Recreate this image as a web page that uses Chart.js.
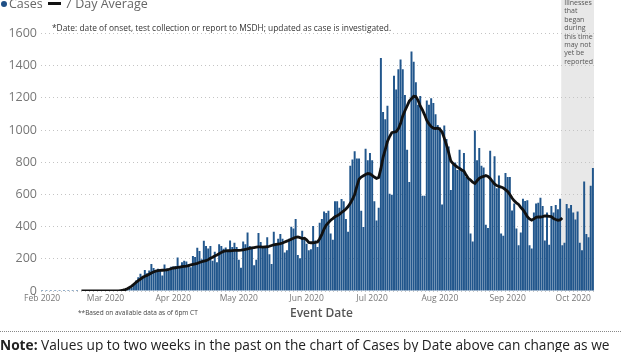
<!DOCTYPE html>
<html>
<head>
<meta charset="utf-8">
<script src="https://cdn.jsdelivr.net/npm/chart.js@4.4.0/dist/chart.umd.min.js"></script>
<style>
  body { margin: 0; background: #fff; font-family: 'Open Sans', sans-serif; }
  #wrap { position: relative; width: 621px; height: 352px; overflow: hidden; }
  #wrap canvas { position: absolute; left: 0; top: 0; }
  .txt { position: absolute; white-space: nowrap; }
  #legend { left: 0; top: -5px; font-size: 12.5px; color: #666; }
  #legend .dot { display: inline-block; width: 6px; height: 6px; border-radius: 3px; background: #1f4f86; margin: 0 2px 2px 1px; vertical-align: middle; }
  #legend .ln { display: inline-block; width: 13px; height: 3px; background: #111; margin: 0 4px 2px 5px; vertical-align: middle; }
  #noteDate { left: 52px; top: 22px; font-size: 8.4px; color: #333; }
  #based { left: 78px; top: 308px; font-size: 6.5px; color: #444; }
  #xtitle { left: 290px; top: 304px; font-size: 12px; font-weight: 600; color: #555; }
  #rule { position: absolute; left: 0; top: 331px; width: 621px; height: 0; border-top: 1px dotted #888; z-index: 2; }
  #note { left: 0; top: 335px; font-size: 13.7px; color: #222; }
</style>
</head>
<body>
<div id="wrap">
  <canvas id="casesChart" width="621" height="352"></canvas>
  <div class="txt" id="legend"><span class="dot"></span>Cases<span class="ln"></span>7 Day Average</div>
  <div class="txt" id="noteDate">*Date: date of onset, test collection or report to MSDH; updated as case is investigated.</div>
  <div class="txt" id="based">**Based on available data as of 6pm CT</div>
  <div class="txt" id="xtitle">Event Date</div>
  <div class="txt" id="note"><b>Note:</b> Values up to two weeks in the past on the chart of Cases by Date above can change as we</div>
  <div id="rule"></div>
</div>
<script>
// daily cases by event date, Feb 1 - Oct 10 2020
const casesFeb = [6,0,6,0,6,0,6,0,6,0,6,0,6,0,6,0,6,0,0,0,0,0,0,0,0,0,0,0,0];
const casesMar = [0,0,0,0,0,0,1, 2,3,5,8,14,22,40, 66,86,107,95,131,110,127, 168,143,130,138,128,97,164, 140,128,151];
const casesApr = [152,156,208,143,178,188,184, 168,148,218,212,269,248,198, 313,279,264,279,188,244,178, 290,280,262,270,250,314,274, 300,274];
const casesMay = [194,144,308,290,364,280,274, 160,194,360,304,280,274,334, 228,168,368,294,324,354,324, 240,254,324,400,388,448,224, 204,374,334];
const casesJun = [294,254,260,404,314,274,424, 448,494,484, 498,358,318,558,558,518,572,558,448,368, 778,818,868,824,824,498,398,884,812,858];
const casesJul = [812,558,438,518,1448,1112,1068, 1152,604,598,1338,1252,1378,1438, 1378,1218,878,678,1488,1424,1298, 1158,1212,592,592,1184,1158,1198, 1168,1098,1032];
const casesAug = [1018,538,1028,944,898,628,784, 798,752,878,752,858,708,698, 358,308,998,812,888,778,768, 412,392,872,688,838,638,718, 358,344,734];
const casesSep = [708,708,500,544,388,284,364, 574,560,564,284,264,488,544, 548,580,528,314,488,288,528, 488,534,508,574,284,300,540, 514,534];
const casesOct = [488,444,494,300,254,680,354,334,654,764];

// 7 day average (black line)
const avgFeb = [null,null,null,null,null,null,null,null,null,null,null,null,null,null,null,null,null,null, 0,0,0,0,0,0,0,0,0,0,0];
const avgMar = [0,0,0,0,0,0,1, 3,5,9,14,22,30,42, 54,64,74,84,92,97,104, 112,118,124,127,128,129,130, 131,134,138];
const avgApr = [143,144,147,149,151,153,155, 158,162,165,168,172,177,182, 186,188,195,203,210,218,224, 232,240,246,249,250,250,251, 252,252];
const avgMay = [253,254,256,258,262,265,268, 270,272,274,274,273,274,275, 278,283,287,290,292,294,298, 304,310,315,322,328,334,336, 332,326,328];
const avgJun = [318,302,300,300,302,305,325, 352,385,410,425,440,450,462, 468,476,488,498,510,525,545, 570,600,650,695,708,716,724, 730,728];
const avgJul = [718,708,700,705,760,830,878, 930,960,984,988,990,1008,1040, 1088,1120,1150,1180,1195,1210,1208, 1185,1150,1125,1095,1060,1038,1022, 1012,1010,1012];
const avgAug = [1005,988,950,908,860,808,792, 780,770,762,752,745,720,700, 690,676,668,685,700,708,712, 718,712,700,682,665,655,650, 646,640,630];
const avgSep = [618,600,578,560,548,538,520, 505,485,462,448,440,448,458, 460,460,462,466,466,464,462, 450,444,440,442,454,null,null,null,null];
const avgOct = [null,null,null,null,null,null,null,null,null,null];

const monthTicks = ['Feb 2020','Mar 2020','Apr 2020','May 2020','Jun 2020','Jul 2020','Aug 2020','Sep 2020','Oct 2020'];
const yTicks = [0,200,400,600,800,1000,1200,1400,1600];
const incompleteFrom = '2020-09-26';
const bandText = ['Illnesses','that','began','during','this time','may not','yet be','reported'];

const cases = [].concat(casesFeb, casesMar, casesApr, casesMay, casesJun, casesJul, casesAug, casesSep, casesOct);
const avg = [].concat(avgFeb, avgMar, avgApr, avgMay, avgJun, avgJul, avgAug, avgSep, avgOct);

// one category per day
const days = [];
for (let i = 0; i < cases.length; i++) {
  const d = new Date(Date.UTC(2020, 1, 1 + i));
  days.push(d.toISOString().slice(0, 10));
}

function bandLeft(chart) {
  const x = chart.scales.x;
  const i = days.indexOf(incompleteFrom);
  return x.getPixelForValue(i) - (x.getPixelForValue(1) - x.getPixelForValue(0)) / 2;
}

const bandPlugin = {
  id: 'band',
  beforeDraw(chart) {
    const area = chart.chartArea, c = chart.ctx, left = bandLeft(chart);
    c.save();
    c.fillStyle = '#e8e8e8';
    c.fillRect(left, 0, area.right - left, area.bottom);
    c.restore();
  },
  afterDraw(chart) {
    const c = chart.ctx, left = bandLeft(chart);
    c.save();
    c.fillStyle = '#555';
    c.font = "7px 'Open Sans'";
    c.textBaseline = 'middle';
    bandText.forEach((t, k) => c.fillText(t, left + 3, 3 + k * 8.4));
    c.restore();
  }
};

new Chart(document.getElementById('casesChart'), {
  type: 'bar',
  data: {
    labels: days,
    datasets: [
      {
        type: 'line',
        label: '7 Day Average',
        data: avg,
        borderColor: '#111',
        borderWidth: 2.8,
        pointRadius: 0,
        tension: 0,
        order: 0
      },
      {
        label: 'Cases',
        data: cases,
        backgroundColor: '#21568c',
        categoryPercentage: 1,
        barPercentage: 0.9,
        order: 1
      }
    ]
  },
  options: {
    responsive: false,
    animation: false,
    layout: { padding: { top: 0, right: 27, left: 0, bottom: 0 } },
    plugins: { legend: { display: false }, tooltip: { enabled: false } },
    scales: {
      x: {
        grid: { display: false, drawTicks: false, tickLength: 0 },
        border: { display: false },
        afterFit(s) { s.height = 61; },
        ticks: {
          autoSkip: false,
          maxRotation: 0,
          padding: 2,
          color: '#777',
          font: { family: 'Open Sans', size: 8.5 },
          callback(v) {
            const d = days[v];
            if (d.slice(8) !== '01') return '';
            return monthTicks[Number(d.slice(5, 7)) - 2];
          }
        }
      },
      y: {
        min: 0,
        max: 1737,
        afterFit(s) { s.width = 41; },
        afterBuildTicks(s) { s.ticks = yTicks.map(v => ({ value: v })); },
        grid: { color: '#c4c4c4', drawTicks: false },
        border: { display: false, dash: [1, 3] },
        ticks: {
          padding: 4,
          color: '#777',
          font: { family: 'Open Sans', size: 12.5 },
          callback: v => String(v)
        }
      }
    }
  },
  plugins: [bandPlugin]
});
</script>
</body>
</html>
